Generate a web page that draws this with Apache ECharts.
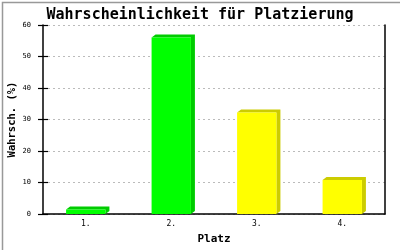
<!DOCTYPE html>
<html><head><meta charset="utf-8">
<script src="https://cdn.jsdelivr.net/npm/echarts@6/dist/echarts.min.js"></script>
<style>html,body{margin:0;padding:0;background:#fff}#c{width:400px;height:250px}</style>
</head><body><div id="c"></div>
<script>
var categories = ['1.', '2.', '3.', '4.'];
var values = [1.4, 56, 32.2, 10.8];
var frontColors = ['#00ff00', '#00ff00', '#ffff00', '#ffff00'];
var sideColors = ['#00cc00', '#00cc00', '#cccc00', '#cccc00'];
var yTicks = [0, 10, 20, 30, 40, 50, 60];

var mono = '"DejaVu Sans Mono", "Liberation Mono", monospace';
var chart = echarts.init(document.getElementById('c'), null, {renderer: 'canvas'});
var data = values.map(function (v, i) { return [i, v]; });

chart.setOption({
  animation: false,
  backgroundColor: '#fff',
  title: {
    text: 'Wahrscheinlichkeit für Platzierung',
    left: 'center', top: 3,
    textStyle: {fontFamily: mono, fontWeight: 'bold', fontSize: 15, color: '#000'}
  },
  graphic: [{
    type: 'rect', left: 0, top: 0, z: 100, silent: true,
    shape: {x: 0.5, y: 0.5, width: 399, height: 249},
    style: {fill: 'none', stroke: '#999', lineWidth: 1.5}
  }],
  grid: {left: 43, right: 15, top: 25, bottom: 36, containLabel: false, outerBoundsMode: 'none'},
  xAxis: {
    type: 'category', data: categories,
    name: 'Platz', nameLocation: 'middle', nameGap: 20,
    nameTextStyle: {fontFamily: mono, fontWeight: 'bold', fontSize: 11, color: '#000'},
    axisLine: {lineStyle: {color: '#000', width: 1.5}},
    axisTick: {show: false},
    axisLabel: {fontFamily: mono, fontSize: 8, color: '#000', margin: 6},
    splitLine: {show: false}
  },
  yAxis: [{
    type: 'value', min: yTicks[0], max: yTicks[yTicks.length - 1], interval: 10,
    name: 'Wahrsch. (%)', nameLocation: 'middle', nameGap: 25, nameMoveOverlap: false,
    nameTextStyle: {fontFamily: mono, fontWeight: 'bold', fontSize: 10.5, color: '#000'},
    axisLine: {show: true, lineStyle: {color: '#000', width: 1.5}},
    axisTick: {show: true, length: 5, lineStyle: {color: '#000', width: 1.2}},
    axisLabel: {fontFamily: mono, fontSize: 7, color: '#000', margin: 12},
    splitLine: {show: true, lineStyle: {color: '#bbb', type: [2, 3], width: 1}}
  }, {
    type: 'value', min: yTicks[0], max: yTicks[yTicks.length - 1], interval: 10,
    position: 'left', offset: 0,
    axisLine: {show: false},
    axisTick: {show: true, inside: true, length: 5, lineStyle: {color: '#000', width: 1.2}},
    axisLabel: {show: false}, splitLine: {show: false}
  }, {
    type: 'value', min: yTicks[0], max: yTicks[yTicks.length - 1], interval: 10,
    position: 'right',
    axisLine: {show: true, lineStyle: {color: '#000', width: 1.5}},
    axisTick: {show: false}, axisLabel: {show: false}, splitLine: {show: false}
  }],
  series: [{
    type: 'custom',
    data: data,
    encode: {x: 0, y: 1},
    renderItem: function (params, api) {
      var i = api.value(0);
      var top = api.coord([i, api.value(1)]);
      var base = api.coord([i, 0]);
      var w = api.size([1, 0])[0] * 0.46;
      var x0 = top[0] - w / 2, x1 = top[0] + w / 2;
      var yt = top[1], yb = base[1];
      var dx = 4, dy = 3;
      return {
        type: 'group',
        children: [{
          type: 'polygon',
          shape: {points: [[x0, yt], [x0 + dx, yt - dy], [x1 + dx, yt - dy], [x1 + dx, yb - dy], [x1, yb], [x1, yt]]},
          style: {fill: sideColors[i], stroke: null}
        }, {
          type: 'rect',
          shape: {x: x0, y: yt, width: w, height: yb - yt},
          style: {fill: frontColors[i], stroke: null}
        }]
      };
    }
  }]
});
</script></body></html>
